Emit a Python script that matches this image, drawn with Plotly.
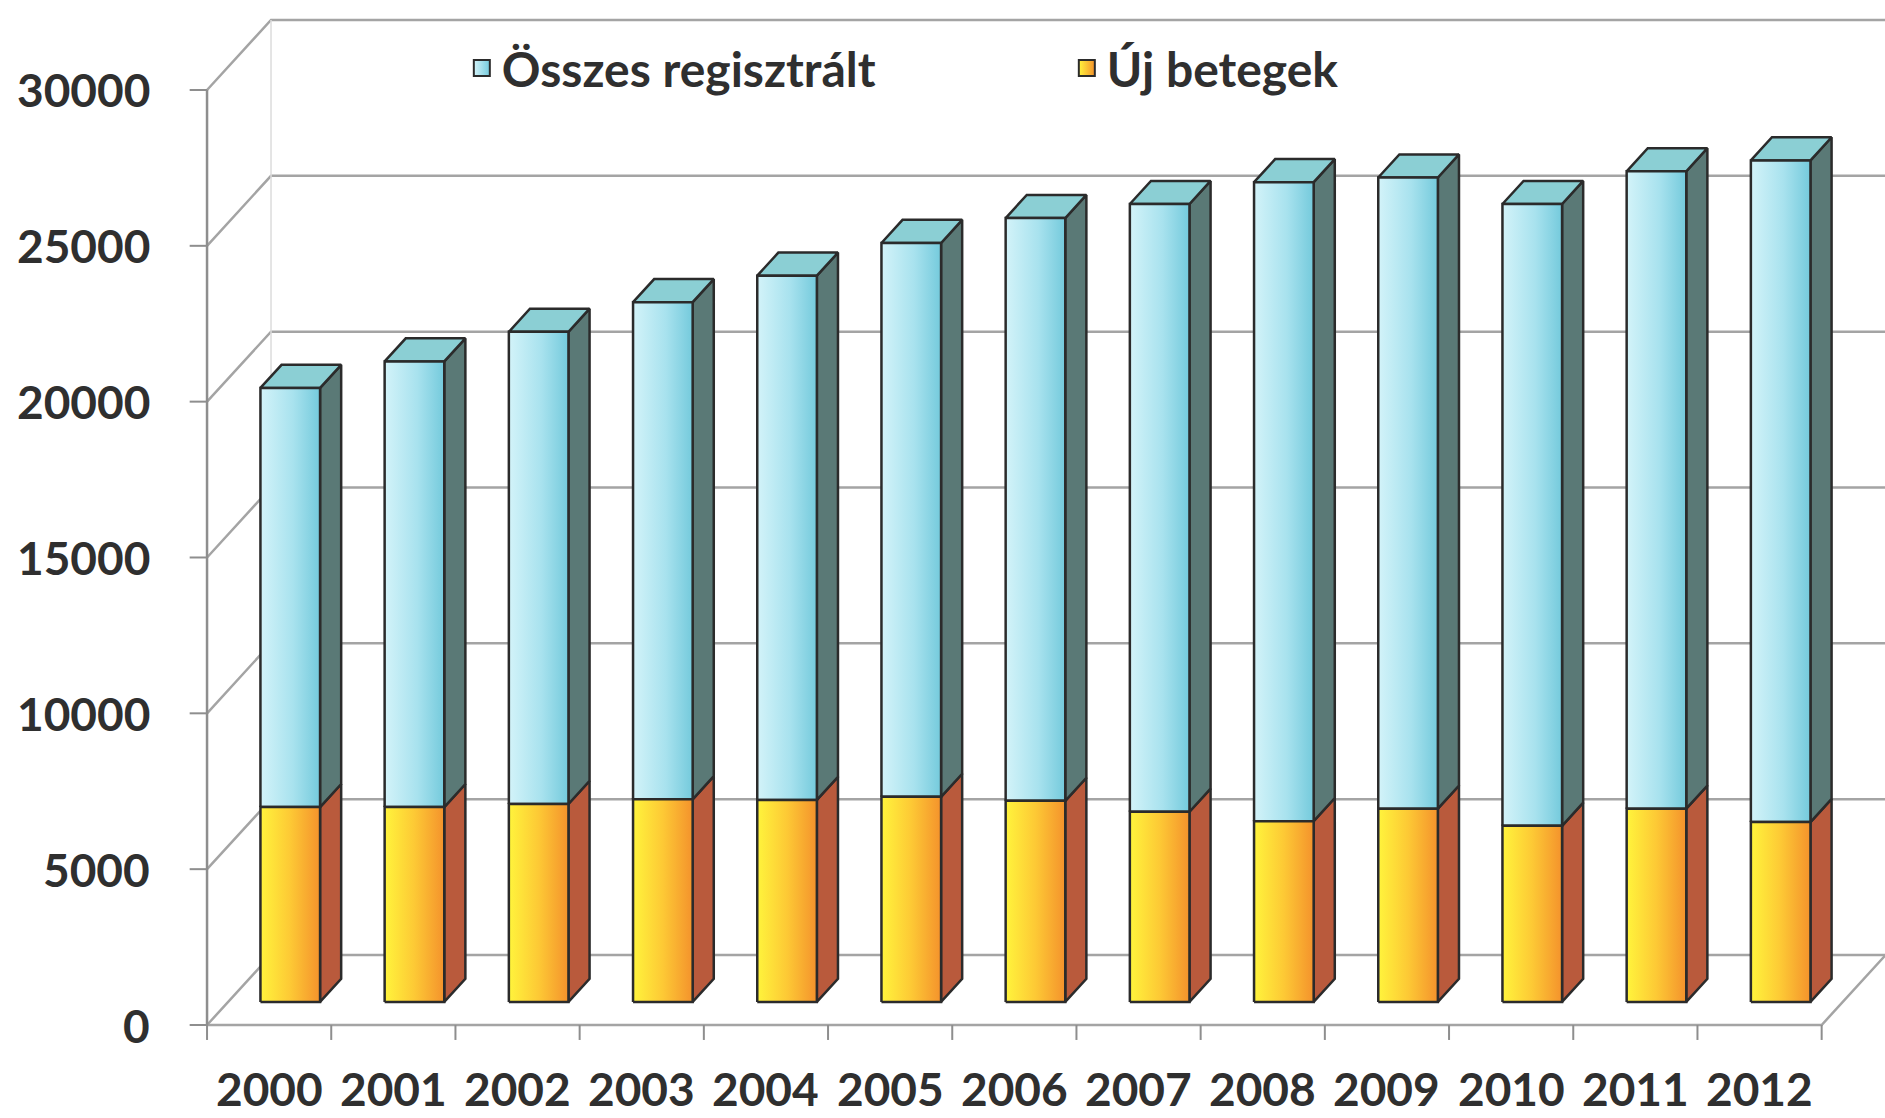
import plotly.graph_objects as go

# ---- data -------------------------------------------------------------
years = ["2000", "2001", "2002", "2003", "2004", "2005", "2006",
         "2007", "2008", "2009", "2010", "2011", "2012"]
osszes_regisztralt = [19700, 20550, 21500, 22450, 23300, 24350, 25150,
                      25600, 26300, 26450, 25600, 26650, 27000]
uj_betegek = [6250, 6250, 6350, 6500, 6480, 6580, 6450,
              6100, 5800, 6200, 5650, 6200, 5770]
y_ticks = [0, 5000, 10000, 15000, 20000, 25000, 30000]
series_names = ["Összes regisztrált", "Új betegek"]

# ---- oblique 3-D box geometry (axis units) -----------------------------
N = len(years)
DEPTH_X = 0.515      # floor depth, horizontal component (categories)
DEPTH_Y = 2246       # floor depth, vertical component (value units)
BAR_FRONT = 0.33     # bars start at this share of the floor depth
BAR_DEPTH = 0.33     # bars are this deep
BAR_W = 0.48         # bar width (categories)
X_RANGE = [-1.667, 13.51]
Y_RANGE = [-2984, 32887]

FONT = "Lato"
TEXT_COL = "#2f2f2f"
GRID = "#a4a4a4"
OUTLINE = "#2b2b2b"

BLUE_FRONT = [[0, "#d3f3f9"], [0.55, "#a8e2ee"], [1, "#74cadc"]]
BLUE_SIDE = "#5a7976"
BLUE_TOP = "#8bcfd4"
YELLOW_FRONT = [[0, "#fff43c"], [0.5, "#fdc935"], [1, "#f4922c"]]
YELLOW_SIDE = "#b95a3c"

fig = go.Figure()


def lines(xs, ys, color, width):
    fig.add_trace(go.Scatter(x=xs, y=ys, mode="lines",
                             line=dict(color=color, width=width),
                             hoverinfo="skip", showlegend=False))


def face(xs, ys, fill=None, gradient=None):
    kw = dict(fill="toself", mode="lines",
              line=dict(color=OUTLINE, width=2.5),
              hoverinfo="skip", showlegend=False)
    if gradient is not None:
        kw["fillgradient"] = dict(type="horizontal", colorscale=gradient)
        kw["fillcolor"] = gradient[1][1]
    else:
        kw["fillcolor"] = fill
    fig.add_trace(go.Scatter(x=xs, y=ys, **kw))


# ---- walls and floor -----------------------------------------------------
gx, gy = [], []
for v in y_ticks:
    gx += [0, DEPTH_X, N + DEPTH_X, None]
    gy += [v, v + DEPTH_Y, v + DEPTH_Y, None]
lines(gx, gy, GRID, 2.5)

# back edge of the side wall
lines([DEPTH_X, DEPTH_X], [DEPTH_Y, y_ticks[-1] + DEPTH_Y], "#dcdcdc", 1.5)
# floor: front edge and right edge
lines([0, N, N + DEPTH_X], [0, 0, DEPTH_Y], GRID, 2.5)
# vertical value axis
lines([0, 0], [0, y_ticks[-1]], "#8e8e8e", 2.5)

# tick marks
tx, ty = [], []
for v in y_ticks:
    tx += [-0.14, 0, None]
    ty += [v, v, None]
for k in range(N + 1):
    tx += [k, k, None]
    ty += [0, -480, None]
lines(tx, ty, "#8e8e8e", 2)

# ---- bars ----------------------------------------------------------------
fx, fy = BAR_FRONT * DEPTH_X, BAR_FRONT * DEPTH_Y
bx, by = BAR_DEPTH * DEPTH_X, BAR_DEPTH * DEPTH_Y
for i in range(N):
    xl = i + 0.5 + fx - BAR_W / 2
    xr = xl + BAR_W
    lo = fy
    mid = fy + uj_betegek[i]
    hi = fy + osszes_regisztralt[i]

    # side faces
    face([xr, xr + bx, xr + bx, xr, xr], [lo, lo + by, mid + by, mid, lo],
         fill=YELLOW_SIDE)
    face([xr, xr + bx, xr + bx, xr, xr], [mid, mid + by, hi + by, hi, mid],
         fill=BLUE_SIDE)
    # top face
    face([xl, xr, xr + bx, xl + bx, xl], [hi, hi, hi + by, hi + by, hi],
         fill=BLUE_TOP)
    # front faces
    face([xl, xr, xr, xl, xl], [mid, mid, hi, hi, mid], gradient=BLUE_FRONT)
    face([xl, xr, xr, xl, xl], [lo, lo, mid, mid, lo], gradient=YELLOW_FRONT)

# ---- legend entries --------------------------------------------------------
for name, col, grad in [(series_names[0], "#d3f3f9", "#74cadc"),
                        (series_names[1], "#fff43c", "#f4922c")]:
    fig.add_trace(go.Scatter(
        x=[None], y=[None], mode="markers", name=name,
        marker=dict(symbol="square", size=20, color=col,
                    gradient=dict(type="horizontal", color=grad),
                    line=dict(color=OUTLINE, width=2))))

# ---- tick labels ---------------------------------------------------------
annotations = []
for v in y_ticks:
    annotations.append(dict(x=-0.443, y=v, xref="x", yref="y", text=str(v),
                            xanchor="right", yanchor="middle", showarrow=False,
                            font=dict(family=FONT, size=46, color=TEXT_COL,
                                      weight="bold")))
for i, yr in enumerate(years):
    annotations.append(dict(x=i + 0.5, y=-2040, xref="x", yref="y", text=yr,
                            xanchor="center", yanchor="middle", showarrow=False,
                            font=dict(family=FONT, size=46, color=TEXT_COL,
                                      weight="bold")))

fig.update_layout(
    width=1885, height=1118,
    margin=dict(l=0, r=0, t=0, b=0),
    paper_bgcolor="white", plot_bgcolor="white",
    xaxis=dict(range=X_RANGE, visible=False, fixedrange=True),
    yaxis=dict(range=Y_RANGE, visible=False, fixedrange=True),
    hovermode=False,
    annotations=annotations,
    legend=dict(orientation="h", x=0.245, y=0.939, xanchor="left",
                yanchor="middle", entrywidth=560, entrywidthmode="pixels",
                itemwidth=30, bgcolor="rgba(0,0,0,0)",
                font=dict(family=FONT, size=48, color=TEXT_COL, weight="bold")),
    showlegend=True,
)

fig.write_html("out.html")
